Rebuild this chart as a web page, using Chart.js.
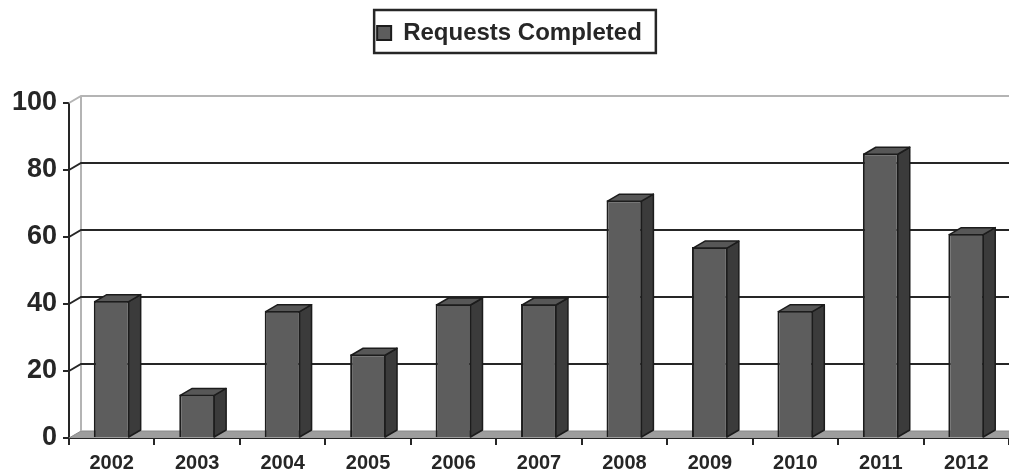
<!DOCTYPE html>
<html>
<head>
<meta charset="utf-8">
<script src="https://cdn.jsdelivr.net/npm/chart.js@4"></script>
<style>
  html, body { margin: 0; padding: 0; background: #ffffff; }
  #wrap { width: 1009px; height: 472px; position: relative; }
</style>
</head>
<body>
<div id="wrap"><canvas id="chart"></canvas></div>
<script>
// Requests completed per year
const years = ['2002', '2003', '2004', '2005', '2006', '2007', '2008', '2009', '2010', '2011', '2012'];
const requestsCompleted = [41, 13, 38, 25, 40, 40, 71, 57, 38, 85, 61];
const yTickValues = [0, 20, 40, 60, 80, 100];

// Depth of the pseudo-3D walls and bars (pixels right / up)
const DEPTH_X = 12;
const DEPTH_Y = 7;
// legend sits slightly right of centre
const LEGEND_SHIFT = 5;

const INK = '#262626';
const FRONT = '#5d5d5d';
const SIDE = '#3b3b3b';
const TOP = '#575757';
const EDGE = '#1c1c1c';
const FLOOR = '#9d9d9d';
const WALL_EDGE = '#b4b4b4';

function poly(ctx, pts, fill, stroke, lw) {
  ctx.beginPath();
  ctx.moveTo(pts[0][0], pts[0][1]);
  for (let i = 1; i < pts.length; i++) ctx.lineTo(pts[i][0], pts[i][1]);
  ctx.closePath();
  if (fill) { ctx.fillStyle = fill; ctx.fill(); }
  if (stroke) { ctx.strokeStyle = stroke; ctx.lineWidth = lw || 1; ctx.stroke(); }
}

const depthPlugin = {
  id: 'depthPlugin',
  afterLayout(chart) {
    const lg = chart.legend;
    if (lg) {
      lg.left += LEGEND_SHIFT;
      lg.right += LEGEND_SHIFT;
    }
  },
  // floor, back wall and gridlines behind the bars
  beforeDatasetsDraw(chart) {
    const { ctx, chartArea: { left, right, bottom }, scales: { y } } = chart;
    ctx.save();
    poly(ctx, [[left, bottom], [right + DEPTH_X, bottom], [right + DEPTH_X, bottom - DEPTH_Y], [left + DEPTH_X, bottom - DEPTH_Y]], FLOOR);
    ctx.beginPath();
    ctx.moveTo(left, bottom);
    ctx.lineTo(left + DEPTH_X, bottom - DEPTH_Y);
    ctx.lineTo(right + DEPTH_X, bottom - DEPTH_Y);
    ctx.strokeStyle = '#8a8a8a';
    ctx.lineWidth = 1;
    ctx.stroke();
    const yTop = y.getPixelForValue(y.max);
    ctx.beginPath();
    ctx.moveTo(left + DEPTH_X, yTop - DEPTH_Y);
    ctx.lineTo(left + DEPTH_X, bottom - DEPTH_Y);
    ctx.strokeStyle = WALL_EDGE;
    ctx.lineWidth = 2;
    ctx.stroke();
    yTickValues.forEach(v => {
      if (v === 0) return;
      const py = y.getPixelForValue(v);
      ctx.beginPath();
      ctx.moveTo(left, py);
      ctx.lineTo(left + DEPTH_X, py - DEPTH_Y);
      ctx.lineTo(right + DEPTH_X, py - DEPTH_Y);
      ctx.strokeStyle = v === y.max ? WALL_EDGE : INK;
      ctx.lineWidth = 2;
      ctx.stroke();
    });
    ctx.restore();
  },
  // top and side faces of each column
  afterDatasetsDraw(chart) {
    const { ctx } = chart;
    const meta = chart.getDatasetMeta(0);
    ctx.save();
    ctx.lineJoin = 'round';
    meta.data.forEach(bar => {
      const { x, y, base, width } = bar.getProps(['x', 'y', 'base', 'width'], true);
      const l = x - width / 2 + 1, r = x + width / 2 - 1, t = y + 1, b = base;
      poly(ctx, [[r, t], [r + DEPTH_X, t - DEPTH_Y], [r + DEPTH_X, b - DEPTH_Y], [r, b]], SIDE, EDGE, 1.5);
      poly(ctx, [[l, t], [r, t], [r + DEPTH_X, t - DEPTH_Y], [l + DEPTH_X, t - DEPTH_Y]], TOP, EDGE, 1.5);
    });
    ctx.restore();
  },
  // frame around the legend
  afterDraw(chart) {
    const lg = chart.legend;
    if (!lg || !lg.legendHitBoxes || !lg.legendHitBoxes.length) return;
    const hb = lg.legendHitBoxes[0];
    const cy = hb.top + hb.height / 2;
    const { ctx } = chart;
    ctx.save();
    ctx.strokeStyle = INK;
    ctx.lineWidth = 2.5;
    ctx.strokeRect(hb.left + LEGEND_SHIFT - 8, cy - 23, hb.width + 17, 43);
    ctx.restore();
  }
};

new Chart(document.getElementById('chart'), {
  type: 'bar',
  data: {
    labels: years,
    datasets: [{
      label: 'Requests Completed',
      data: requestsCompleted,
      backgroundColor: FRONT,
      borderColor: EDGE,
      borderWidth: 2,
      barPercentage: 0.42,
      categoryPercentage: 1
    }]
  },
  options: {
    responsive: true,
    maintainAspectRatio: false,
    animation: false,
    layout: { padding: { top: 11, left: 0, right: 0, bottom: 0 } },
    plugins: {
      legend: {
        display: true,
        position: 'top',
        labels: {
          color: INK,
          font: { family: 'Liberation Sans, Arial, sans-serif', size: 24, weight: 'bold' },
          boxWidth: 14,
          boxHeight: 14,
          padding: 10
        }
      },
      tooltip: { enabled: false }
    },
    scales: {
      spacer: {
        type: 'category',
        position: 'top',
        display: true,
        grid: { display: false },
        border: { display: false },
        ticks: { display: false },
        afterFit: s => { s.height = 48; }
      },
      x: {
        type: 'category',
        position: 'bottom',
        offset: true,
        grid: { display: true, offset: true, drawOnChartArea: false, drawTicks: true, tickLength: 7, color: INK, lineWidth: 2 },
        border: { display: true, color: INK, width: 2 },
        ticks: {
          color: INK,
          padding: 6,
          maxRotation: 0,
          autoSkip: false,
          font: { family: 'Liberation Sans, Arial, sans-serif', size: 20, weight: 'bold' }
        },
        afterFit: s => { s.height = 34; }
      },
      y: {
        position: 'left',
        min: 0,
        max: 100,
        grid: { display: true, drawOnChartArea: false, drawTicks: true, tickLength: 6, color: INK, lineWidth: 2 },
        border: { display: true, color: INK, width: 2 },
        ticks: {
          stepSize: 20,
          color: INK,
          padding: 6,
          font: { family: 'Liberation Sans, Arial, sans-serif', size: 27, weight: 'bold' }
        },
        afterFit: s => { s.width = 69; }
      }
    }
  },
  plugins: [depthPlugin]
});
</script>
</body>
</html>
